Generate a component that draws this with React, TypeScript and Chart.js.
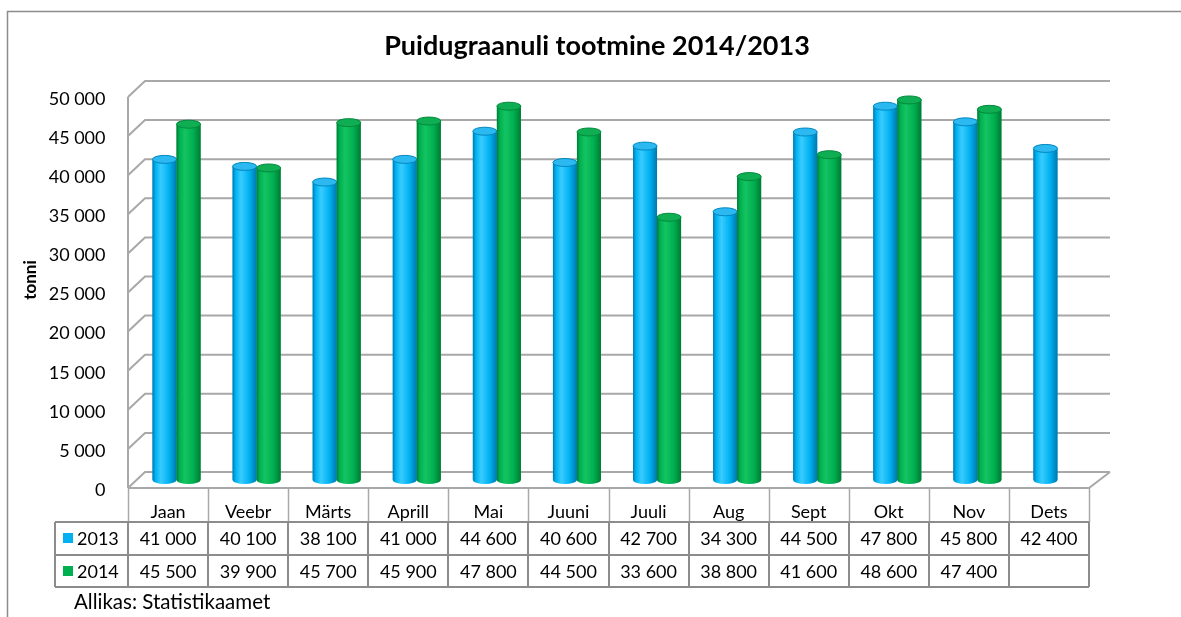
import React, { useEffect, useRef } from "react";
import { Chart, registerables } from "chart.js";

Chart.register(...registerables);

const TITLE = "Puidugraanuli tootmine 2014/2013";
const Y_TITLE = "tonni";
const SOURCE = "Allikas: Statistikaamet";
const categories = ["Jaan", "Veebr", "Märts", "Aprill", "Mai", "Juuni", "Juuli", "Aug", "Sept", "Okt", "Nov", "Dets"];
const seriesNames = ["2013", "2014"];
const values2013 = [41000, 40100, 38100, 41000, 44600, 40600, 42700, 34300, 44500, 47800, 45800, 42400];
const values2014 = [45500, 39900, 45700, 45900, 47800, 44500, 33600, 38800, 41600, 48600, 47400, null];
const yMin = 0;
const yMax = 50000;
const yStep = 5000;

const FONT = "Lato, 'Open Sans', sans-serif";
const BLUE = { base: "#00B0F0", dark: "#0078AE", light: "#38CCFF", top: "#2CB8F0", rim: "#0088C0" };
const GREEN = { base: "#00B050", dark: "#007A34", light: "#14C462", top: "#10AE52", rim: "#008A3C" };
const DX = 8.5;
const DY = 8;

const fmt = (v: number | null) =>
  v === null || v === undefined ? "" : String(v).replace(/\B(?=(\d{3})+(?!\d))/g, " ");

const decorPlugin = {
  id: "decor",
  beforeDraw(chart: any) {
    const ctx = chart.ctx;
    ctx.save();
    ctx.fillStyle = "#ffffff";
    ctx.fillRect(0, 0, chart.width, chart.height);
    ctx.strokeStyle = "#8c8c8c";
    ctx.lineWidth = 1.5;
    ctx.beginPath();
    ctx.moveTo(7.5, chart.height + 5);
    ctx.lineTo(7.5, 11.5);
    ctx.lineTo(chart.width + 5, 11.5);
    ctx.stroke();
    ctx.restore();
  },
  beforeDatasetsDraw(chart: any) {
    const ctx = chart.ctx;
    const y = chart.scales.y;
    const { left, right, bottom } = chart.chartArea;
    const backL = left + DX;
    const backR = right + 12.5;
    const frontL = left - DX;
    const frontR = right - DX;
    ctx.save();
    ctx.strokeStyle = "#a8a8a8";
    ctx.lineWidth = 2;
    for (let v = yMin; v <= yMax; v += yStep) {
      const py = y.getPixelForValue(v);
      ctx.beginPath();
      ctx.moveTo(frontL, py + DY);
      ctx.lineTo(backL, py - DY);
      ctx.lineTo(backR, py - DY);
      ctx.stroke();
    }
    ctx.beginPath();
    ctx.moveTo(frontL, y.getPixelForValue(yMax) + DY);
    ctx.lineTo(frontL, bottom + DY);
    ctx.stroke();
    ctx.beginPath();
    ctx.moveTo(frontL, bottom + DY);
    ctx.lineTo(frontR, bottom + DY);
    ctx.lineTo(backR, bottom - DY);
    ctx.stroke();
    ctx.restore();
  },
  afterDatasetsDraw(chart: any) {
    const ctx = chart.ctx;
    chart.data.datasets.forEach((ds: any, di: number) => {
      const col = di === 0 ? BLUE : GREEN;
      const meta = chart.getDatasetMeta(di);
      meta.data.forEach((el: any, i: number) => {
        if (ds.data[i] === null || ds.data[i] === undefined) return;
        const { x, y, base, width } = el.getProps(["x", "y", "base", "width"], true);
        const rx = width / 2;
        const ry = 4;
        const x0 = x - rx;
        ctx.save();
        const g = ctx.createLinearGradient(x0, 0, x0 + width, 0);
        g.addColorStop(0, col.dark);
        g.addColorStop(0.12, col.base);
        g.addColorStop(0.35, col.light);
        g.addColorStop(0.7, col.base);
        g.addColorStop(1, col.dark);
        ctx.fillStyle = g;
        ctx.beginPath();
        ctx.moveTo(x0, y);
        ctx.lineTo(x0, base);
        ctx.ellipse(x, base, rx, ry, 0, Math.PI, 0, true);
        ctx.lineTo(x0 + width, y);
        ctx.closePath();
        ctx.fill();
        ctx.beginPath();
        ctx.ellipse(x, y, rx, ry, 0, 0, Math.PI * 2);
        ctx.fillStyle = col.top;
        ctx.fill();
        ctx.strokeStyle = col.rim;
        ctx.lineWidth = 1;
        ctx.stroke();
        ctx.restore();
      });
    });
  },
  afterDraw(chart: any) {
    const ctx = chart.ctx;
    const xs = chart.scales.x;
    const { left, right, bottom } = chart.chartArea;
    const frontR = right - DX;
    const catW = (right - left) / categories.length;
    const rowTop = bottom + DY;
    const r1 = 522;
    const r2 = 555;
    const r3 = 587;
    const headL = 55;
    ctx.save();
    ctx.fillStyle = "#000";
    ctx.textAlign = "center";
    ctx.textBaseline = "middle";
    ctx.font = `bold 27px ${FONT}`;
    ctx.fillText(TITLE, 597, 46);
    ctx.save();
    ctx.translate(31, 280);
    ctx.rotate(-Math.PI / 2);
    ctx.font = `bold 17px ${FONT}`;
    ctx.fillText(Y_TITLE, 0, 0);
    ctx.restore();

    ctx.strokeStyle = "#a8a8a8";
    ctx.lineWidth = 1.5;
    for (let i = 0; i <= categories.length; i++) {
      const bx = Math.round(xs.getPixelForValue(i) - DX - catW / 2) + 0.5;
      ctx.beginPath();
      ctx.moveTo(bx, rowTop);
      ctx.lineTo(bx, r1);
      ctx.stroke();
    }
    ctx.strokeStyle = "#8c8c8c";
    ctx.lineWidth = 2;
    [r1, r2, r3].forEach((ry) => {
      ctx.beginPath();
      ctx.moveTo(headL, ry);
      ctx.lineTo(frontR, ry);
      ctx.stroke();
    });
    ctx.beginPath();
    ctx.moveTo(headL, r1);
    ctx.lineTo(headL, r3);
    ctx.stroke();
    for (let i = 0; i <= categories.length; i++) {
      const bx = Math.round(xs.getPixelForValue(i) - DX - catW / 2);
      ctx.beginPath();
      ctx.moveTo(bx, r1);
      ctx.lineTo(bx, r3);
      ctx.stroke();
    }

    ctx.font = `18px ${FONT}`;
    ctx.fillStyle = "#000";
    ctx.textAlign = "center";
    categories.forEach((c, i) => {
      const cx = xs.getPixelForValue(i) - DX;
      ctx.fillText(c, cx, 512);
      ctx.fillText(fmt(values2013[i]), cx, (r1 + r2) / 2 + 1);
      ctx.fillText(fmt(values2014[i]), cx, (r2 + r3) / 2 + 1);
    });
    ctx.textAlign = "left";
    ctx.fillStyle = BLUE.base;
    ctx.fillRect(63, 533, 10, 10);
    ctx.fillStyle = GREEN.base;
    ctx.fillRect(63, 566, 10, 10);
    ctx.fillStyle = "#000";
    ctx.fillText(seriesNames[0], 77, (r1 + r2) / 2 + 1);
    ctx.fillText(seriesNames[1], 77, (r2 + r3) / 2 + 1);
    ctx.font = `20.5px ${FONT}`;
    ctx.fillText(SOURCE, 74, 602);
    ctx.restore();
  },
};

export default function App() {
  const ref = useRef<HTMLCanvasElement | null>(null);
  useEffect(() => {
    if (!ref.current) return;
    const chart = new Chart(ref.current, {
      type: "bar",
      data: {
        labels: categories,
        datasets: [
          { label: seriesNames[0], data: values2013, backgroundColor: BLUE.base },
          { label: seriesNames[1], data: values2014 as any, backgroundColor: GREEN.base },
        ],
      },
      options: {
        animation: false,
        responsive: true,
        maintainAspectRatio: false,
        layout: { padding: { left: 0, right: 83.5, top: 89, bottom: 137 } },
        plugins: { legend: { display: false }, title: { display: false }, tooltip: { enabled: false } },
        datasets: { bar: { categoryPercentage: 0.6, barPercentage: 1.0 } },
        scales: {
          x: { display: false, offset: true },
          y: {
            min: yMin,
            max: yMax,
            border: { display: false },
            grid: { display: false, drawTicks: false },
            afterFit: (s: any) => {
              s.width = 136.5;
            },
            ticks: {
              stepSize: yStep,
              padding: 31,
              labelOffset: 10,
              color: "#000",
              font: { family: FONT, size: 18 },
              callback: (v: any) => fmt(Number(v)),
            },
          },
        },
      },
      plugins: [decorPlugin],
    });
    return () => chart.destroy();
  }, []);
  return (
    <div style={{ position: "absolute", left: 0, top: 0, width: 1181, height: 617 }}>
      <canvas ref={ref} />
    </div>
  );
}
